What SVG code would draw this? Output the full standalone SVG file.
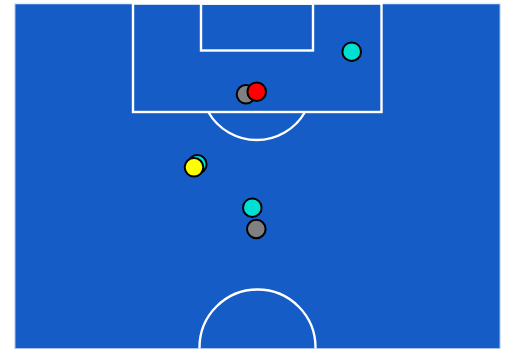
<svg xmlns="http://www.w3.org/2000/svg" width="506" height="349" viewBox="0 0 506 349">
<style>
.line{fill:none;stroke:#ffffff;stroke-width:2.4}
.p{stroke:#000000;stroke-width:2}
.cyan{fill:#00e0d2}
.grey{fill:#808080}
.red{fill:#ff0000}
.yellow{fill:#ffff00}
</style>
<defs>
<clipPath id="pc"><rect x="15" y="3.5" width="485" height="345"/></clipPath>
</defs>
<rect x="0" y="0" width="506" height="349" fill="#ffffff"/>
<g id="pitch">
<rect x="15" y="3.5" width="485" height="345" fill="#155cc6" stroke="#a9c4ee" stroke-width="1"/>
<line x1="15" y1="3.5" x2="500" y2="3.5" stroke="#e8eefa" stroke-width="1.5"/>
<rect class="line" x="133" y="3.5" width="248.5" height="108.5"/>
<rect class="line" x="201" y="3.5" width="112" height="47"/>
<path class="line" d="M208.3 112 A55.7 55.7 0 0 0 305 112"/>
<circle class="line" cx="257.5" cy="347.5" r="58" clip-path="url(#pc)"/>
</g>
<g id="connectors"></g>
<g id="players">
<g id="p1"><circle class="p cyan" cx="351.7" cy="51.7" r="9.3"/></g>
<g id="p2"><circle class="p grey" cx="246" cy="94.3" r="9.3"/></g>
<g id="p3"><circle class="p red" cx="256.7" cy="91.7" r="9.3"/></g>
<g id="p4"><circle class="p cyan" cx="197.3" cy="164.3" r="9.3"/></g>
<g id="p5"><circle class="p yellow" cx="194" cy="167.3" r="9.3"/></g>
<g id="p6"><circle class="p cyan" cx="252.3" cy="207.7" r="9.3"/></g>
<g id="p7"><circle class="p grey" cx="256.3" cy="229" r="9.3"/></g>
</g>
</svg>
